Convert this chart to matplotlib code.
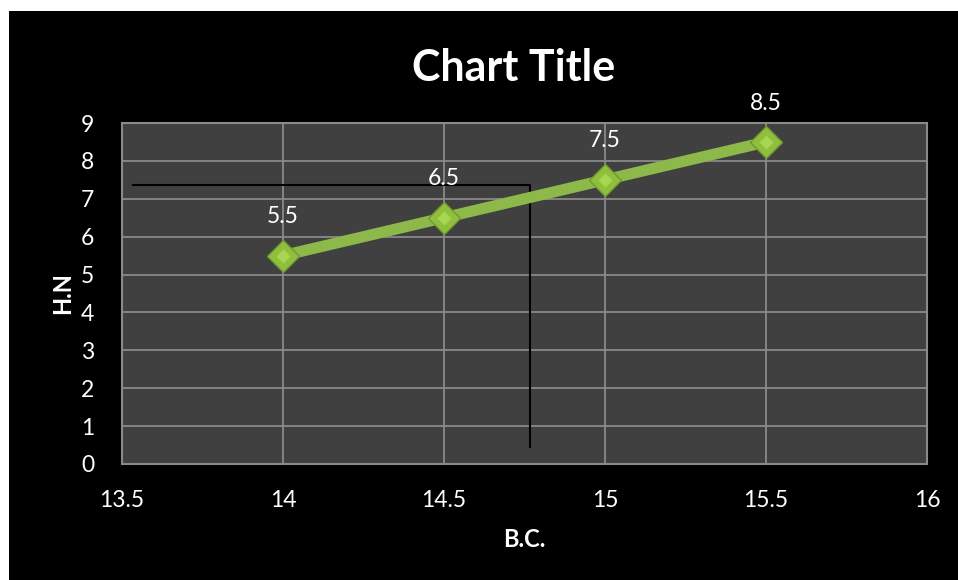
import matplotlib.pyplot as plt
from matplotlib.patches import Rectangle

# readings
bc = [14, 14.5, 15, 15.5]
hn = [5.5, 6.5, 7.5, 8.5]

# reading guide drawn on the plot
guide_x = [13.535, 14.767, 14.767]
guide_y = [7.36, 7.36, 0.45]

xticks = [13.5, 14, 14.5, 15, 15.5, 16]
yticks = list(range(10))

plt.rcParams['font.family'] = ['Lato', 'DejaVu Sans']

fig = plt.figure(figsize=(9.58, 5.8), dpi=100)
fig.patch.set_facecolor('white')
fig.add_artist(Rectangle((9 / 958, 0), 949 / 958, 569 / 580,
                         transform=fig.transFigure, facecolor='black',
                         edgecolor='none', zorder=-5))

ax = fig.add_axes([122 / 958, 116 / 580, 805 / 958, 341 / 580])
ax.set_zorder(1)
ax.set_facecolor('#404040')
ax.set_xlim(13.5, 16)
ax.set_ylim(0, 9)
ax.set_xticks(xticks)
ax.set_yticks(yticks)
ax.set_xticklabels([f'{t:g}' for t in xticks])
ax.grid(True, color='#8a8a8a', linewidth=1.3)
ax.set_axisbelow(True)
for s in ax.spines.values():
    s.set_color('#8a8a8a')
    s.set_linewidth(1.5)
ax.tick_params(length=0, colors='white', labelsize=16.5)
ax.tick_params(axis='x', pad=19)
ax.tick_params(axis='y', pad=20)

ax.plot(guide_x, guide_y, color='black', linewidth=1.5, zorder=2)

ax.plot(bc, hn, color='#8db84a', linewidth=8, solid_capstyle='butt', zorder=3)
ax.plot(bc, hn, linestyle='none', marker='D', markersize=16,
        markerfacecolor='#8fbf3c', markeredgecolor='#6f9a2c',
        markeredgewidth=1.0, zorder=4)
ax.plot(bc, hn, linestyle='none', marker='D', markersize=7,
        markerfacecolor='#a8d650', markeredgecolor='none', zorder=5)

for x, y in zip(bc, hn):
    ax.annotate(f'{y:g}', (x, y), xytext=(0, 28), textcoords='offset points',
                ha='center', va='center', color='white', fontsize=16.5)

ax.set_title('Chart Title', color='white', fontsize=31, fontweight='bold',
             pad=30, x=0.487)
ax.set_xlabel('B.C.', color='white', fontsize=17, fontweight='bold', labelpad=12)
ax.set_ylabel('H.N', color='white', fontsize=17, fontweight='bold', labelpad=5)

fig.savefig('out.png', dpi=100, facecolor=fig.get_facecolor())
